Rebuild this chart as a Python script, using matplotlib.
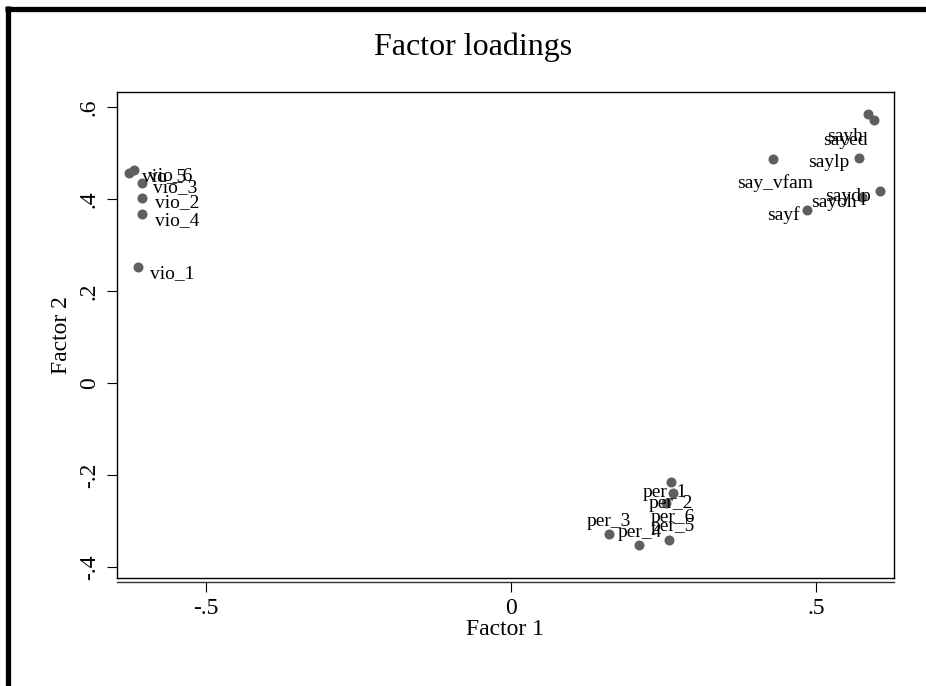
import matplotlib
matplotlib.use("Agg")
import matplotlib.pyplot as plt
from matplotlib.lines import Line2D

# ---- data (factor loadings) ----
labels = ["vio_1", "vio_2", "vio_3", "vio_4", "vio_5", "vio_6",
          "sayh", "sayed", "saylp", "say_vfam", "saydp", "sayoh", "sayf",
          "per_1", "per_2", "per_3", "per_4", "per_5", "per_6"]
factor1 = [-0.611, -0.605, -0.605, -0.605, -0.626, -0.618,
           0.585, 0.595, 0.570, 0.430, 0.605, 0.575, 0.485,
           0.262, 0.266, 0.161, 0.210, 0.259, 0.254]
factor2 = [0.252, 0.402, 0.435, 0.367, 0.457, 0.463,
           0.585, 0.572, 0.489, 0.487, 0.417, 0.404, 0.376,
           -0.215, -0.239, -0.328, -0.352, -0.341, -0.261]
xticks = [-0.5, 0, 0.5]
xticklabels = ["-.5", "0", ".5"]
yticks = [-0.4, -0.2, 0, 0.2, 0.4, 0.6]
yticklabels = ["-.4", "-.2", "0", ".2", ".4", ".6"]

# ---- label placement (layout only): (dx px, dy px down, ha) ----
label_pos = {
    "vio_1": (12, 6, "left"), "vio_2": (13, 4, "left"), "vio_3": (11, 5, "left"),
    "vio_4": (13, 6, "left"), "vio_5": (13, 4, "left"), "vio_6": (14, 5, "left"),
    "sayh": (-5, 22, "right"), "sayed": (-6, 20, "right"), "saylp": (-9, 4, "right"),
    "say_vfam": (40, 24, "right"), "saydp": (-9, 5, "right"), "sayoh": (-5, 5, "right"),
    "sayf": (-7, 5, "right"),
    "per_1": (-6, 11, "center"), "per_2": (-2, 11, "center"), "per_3": (0, -12, "center"),
    "per_4": (1, -12, "center"), "per_5": (4, -13, "center"), "per_6": (7, 14, "center"),
}

plt.rcParams['font.family'] = ['Liberation Serif', 'DejaVu Serif']

W, H = 926, 686
fig = plt.figure(figsize=(W / 100, H / 100), dpi=100)
fig.patch.set_facecolor("white")

left, right, top, bottom = 117, 894, 92, 578
ax = fig.add_axes([left / W, (H - bottom) / H, (right - left) / W, (bottom - top) / H])

# spine placement first (set_position resets tick properties)
ax.spines["bottom"].set_position(("outward", 3))
for s in ["top", "right", "left"]:
    ax.spines[s].set_linewidth(1.0)
    ax.spines[s].set_color("black")
ax.spines["bottom"].set_linewidth(1.0)
ax.spines["bottom"].set_color("#333333")
ax.add_line(Line2D([0, 1], [0, 0], transform=ax.transAxes, color="black",
                   linewidth=1.0, clip_on=False))

ax.scatter(factor1, factor2, s=52, color="#5f5f5f", zorder=3, linewidths=0)
for lab, x, y in zip(labels, factor1, factor2):
    dx, dy, ha = label_pos[lab]
    ax.annotate(lab, (x, y), xytext=(dx, -dy), textcoords="offset pixels",
                ha=ha, va="center", fontsize=14, color="black", zorder=4)

ax.set_xlim(-0.646, 0.628)
ax.set_ylim(-0.424, 0.633)

ax.set_xticks(xticks)
ax.set_xticklabels(xticklabels)
ax.set_yticks(yticks)
ax.set_yticklabels(yticklabels, rotation=90, va="center")

ax.tick_params(axis="x", direction="out", length=7.2, width=0.8, pad=4, labelsize=17)
ax.tick_params(axis="y", direction="out", length=7.5, width=0.8, pad=5, labelsize=17)

ax.set_xlabel("Factor 1", fontsize=17)
ax.set_ylabel("Factor 2", fontsize=17)
ax.xaxis.set_label_coords((505 - left) / (right - left), -(619 - bottom) / (bottom - top))
ax.yaxis.set_label_coords(-(left - 72) / (right - left), 0.5)

fig.text(473 / W, 1 - 47 / H, "Factor loadings", fontsize=23, ha="center", va="center")

# outer border (left and top)
fig.add_artist(Line2D([7.5 / W, 7.5 / W], [0, 1 - 6 / H], transform=fig.transFigure,
                      color="black", linewidth=3.8, solid_capstyle="butt"))
fig.add_artist(Line2D([5 / W, 1], [1 - 8.5 / H, 1 - 8.5 / H], transform=fig.transFigure,
                      color="black", linewidth=3.8, solid_capstyle="butt"))

fig.savefig("out.png", dpi=100, facecolor="white")
